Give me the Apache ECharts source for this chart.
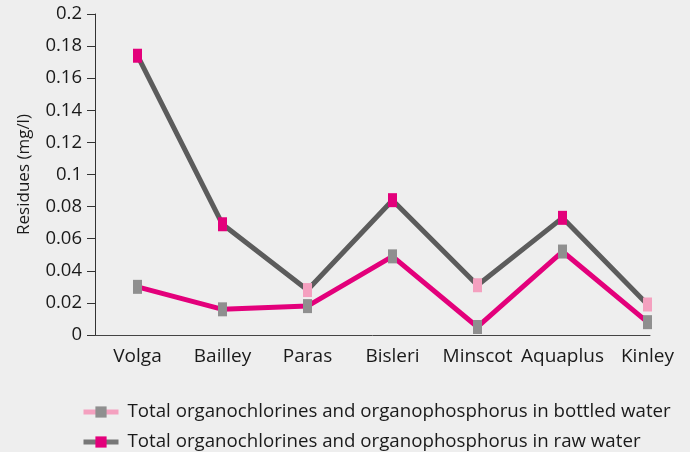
<!DOCTYPE html>
<html>
<head>
<meta charset="utf-8">
<script src="https://cdn.jsdelivr.net/npm/echarts@6/dist/echarts.min.js"></script>
<style>
html,body{margin:0;padding:0;background:#eeeeee;}
#c{width:690px;height:452px;}
</style>
</head>
<body>
<div id="c"></div>
<script>
const categories = ['Volga', 'Bailley', 'Paras', 'Bisleri', 'Minscot', 'Aquaplus', 'Kinley'];
const bottledWater = [0.030, 0.016, 0.018, 0.049, 0.005, 0.052, 0.008];
const rawWater = [0.174, 0.069, 0.028, 0.084, 0.031, 0.073, 0.019];
// marker tone for each raw-water point: 'dark' = magenta, 'light' = light pink
const rawMarkerTone = ['dark', 'dark', 'light', 'dark', 'light', 'dark', 'light'];
const yTickLabels = ['0', '0.02', '0.04', '0.06', '0.08', '0.1', '0.12', '0.14', '0.16', '0.18', '0.2'];
const seriesNames = [
  'Total organochlorines and organophosphorus in bottled water',
  'Total organochlorines and organophosphorus in raw water'
];

const MAGENTA = '#e3007b';
const LIGHT_PINK = '#f4a0bf';
const MARKER_GRAY = '#8f8f8f';
const LINE_GRAY = '#5c5c5c';
const FONT = '"Open Sans", sans-serif';

const chart = echarts.init(document.getElementById('c'), null, {renderer: 'canvas'});

chart.setOption({
  backgroundColor: '#eeeeee',
  animation: false,
  textStyle: {fontFamily: FONT},
  grid: [
    {left: 95, right: 0, top: 14, bottom: 117, containLabel: false},
    {left: 95, right: 40, top: 14, bottom: 117, containLabel: false}
  ],
  xAxis: [
    {
      type: 'category', gridIndex: 0, data: categories, boundaryGap: true,
      axisLine: {show: false}, axisTick: {show: false},
      axisLabel: {color: '#1a1a1a', fontSize: 19, margin: 12, fontFamily: FONT, interval: 0},
      splitLine: {show: false}
    },
    {
      type: 'value', gridIndex: 1, min: 0, max: 1,
      axisLine: {show: true, lineStyle: {color: '#444444', width: 1}},
      axisTick: {show: false}, axisLabel: {show: false}, splitLine: {show: false}
    }
  ],
  yAxis: [
    {
      type: 'value', gridIndex: 0, min: 0, max: 0.2, interval: 0.02,
      name: 'Residues (mg/l)', nameLocation: 'middle', nameGap: 62, nameRotate: 90,
      nameTextStyle: {color: '#1a1a1a', fontSize: 17, fontFamily: FONT},
      axisLine: {show: true, lineStyle: {color: '#333333', width: 1}},
      axisTick: {show: true, inside: false, length: 8, lineStyle: {color: '#333333'}},
      axisLabel: {
        color: '#1a1a1a', fontSize: 18.5, margin: 13, fontFamily: FONT,
        formatter: (v, i) => yTickLabels[i]
      },
      splitLine: {show: false}
    },
    {type: 'value', gridIndex: 1, show: false, min: 0, max: 1}
  ],
  legend: {
    orient: 'vertical', left: 81, top: 401, height: 120, padding: 0,
    itemWidth: 35, itemHeight: 14, itemGap: 8,
    textStyle: {color: '#1a1a1a', fontSize: 18.7, lineHeight: 14, fontFamily: FONT, padding: [0, 0, 8, 4]},
    data: [
      {name: seriesNames[0], lineStyle: {color: LIGHT_PINK, width: 5}, itemStyle: {color: MARKER_GRAY}},
      {name: seriesNames[1], lineStyle: {color: '#777777', width: 5}, itemStyle: {color: MAGENTA}}
    ]
  },
  series: [
    {
      name: seriesNames[1], type: 'line', xAxisIndex: 0, yAxisIndex: 0,
      data: rawWater.map((v, i) => ({
        value: v,
        itemStyle: {color: rawMarkerTone[i] === 'light' ? LIGHT_PINK : MAGENTA}
      })),
      symbol: 'rect', symbolSize: [9, 14], showAllSymbol: true,
      lineStyle: {color: LINE_GRAY, width: 5},
      itemStyle: {color: MAGENTA, borderWidth: 0},
      emphasis: {disabled: true}, z: 2
    },
    {
      name: seriesNames[0], type: 'line', xAxisIndex: 0, yAxisIndex: 0,
      data: bottledWater,
      symbol: 'rect', symbolSize: [9, 14], showAllSymbol: true,
      lineStyle: {color: MAGENTA, width: 5},
      itemStyle: {color: MARKER_GRAY, borderWidth: 0},
      emphasis: {disabled: true}, z: 3
    }
  ]
});
</script>
</body>
</html>
